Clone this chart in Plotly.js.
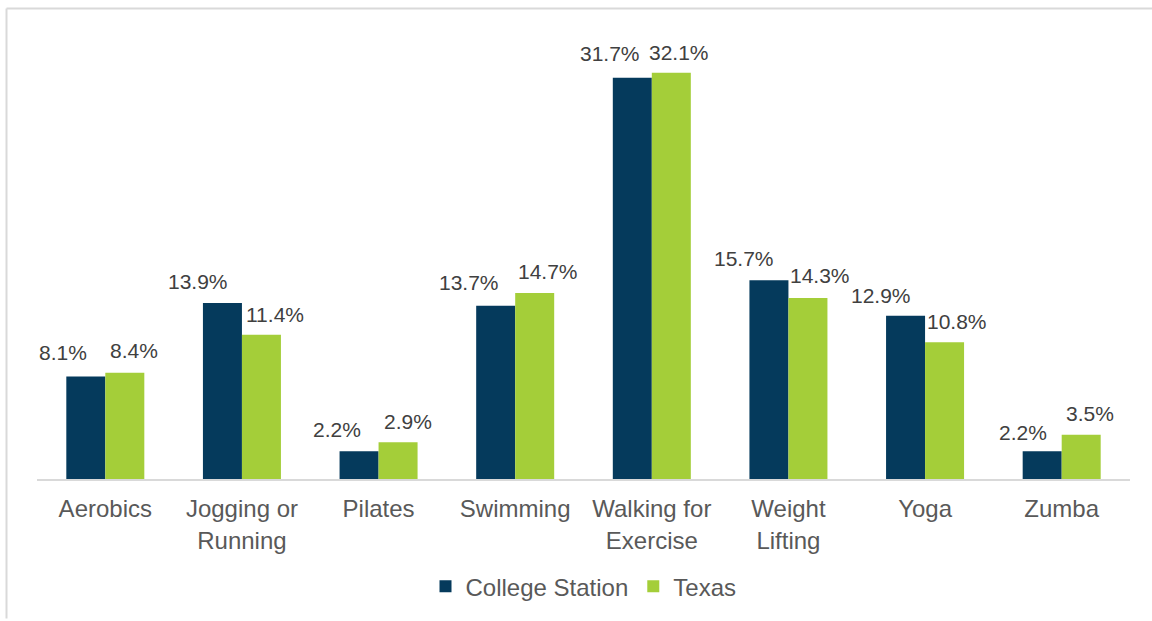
<!DOCTYPE html>
<html>
<head>
<meta charset="utf-8">
<script src="https://cdn.plot.ly/plotly-3.0.1.min.js"></script>
<style>
  html, body { margin: 0; padding: 0; background: #ffffff; }
  #chart { width: 1152px; height: 621px; }
</style>
</head>
<body>
<div id="chart"></div>
<script>
// ---- data ----
const categories = ["Aerobics", "Jogging or<br>Running", "Pilates", "Swimming", "Walking for<br>Exercise", "Weight<br>Lifting", "Yoga", "Zumba"];
const collegeStation = [8.1, 13.9, 2.2, 13.7, 31.7, 15.7, 12.9, 2.2];
const texas = [8.4, 11.4, 2.9, 14.7, 32.1, 14.3, 10.8, 3.5];
const seriesNames = ["College Station", "Texas"];

// ---- label layout tweaks (pixel offsets, Excel-style repositioned labels) ----
const csLabelDx = [-22.5, -24.5, -22, -26.5, -22.5, -25, -24.5, -19.5];
const csLabelUp = [25, 23.5, 23, 25, 26, 23, 22, 20.5];
const txLabelDx = [9, 13.5, 9.5, 13.5, 8, 12, 12, 8.5];
const txLabelUp = [23.5, 22, 22, 23, 22, 24, 22, 23];

const navy = "#053A5C";
const lime = "#A4CE39";
const font = "Liberation Sans, Arial, sans-serif";

const L = 37, R = 22, T = 20, B = 140, W = 1152, H = 621;
const plotW = W - L - R, plotH = H - T - B;
const slot = plotW / categories.length;
const bargap = 0.429;
const barW = slot * (1 - bargap) / 2;

const traces = [
  { type: "bar", name: seriesNames[0], x: categories, y: collegeStation,
    marker: { color: navy }, hoverinfo: "none" },
  { type: "bar", name: seriesNames[1], x: categories, y: texas,
    marker: { color: lime }, hoverinfo: "none" }
];

const annotations = [];
categories.forEach((c, i) => {
  annotations.push({ x: c, y: collegeStation[i], xref: "x", yref: "y",
    text: collegeStation[i].toFixed(1) + "%", showarrow: false,
    xanchor: "center", yanchor: "middle",
    xshift: -barW / 2 + csLabelDx[i], yshift: csLabelUp[i] - 1.5,
    font: { family: font, size: 21, color: "#404040" } });
  annotations.push({ x: c, y: texas[i], xref: "x", yref: "y",
    text: texas[i].toFixed(1) + "%", showarrow: false,
    xanchor: "center", yanchor: "middle",
    xshift: barW / 2 + txLabelDx[i], yshift: txLabelUp[i] - 1.5,
    font: { family: font, size: 21, color: "#404040" } });
});

// outer frame lines (light gray), converted from pixels to paper coords
const px2x = p => (p - L) / plotW;
const py2y = p => (H - B - p) / plotH;
const frameColor = "#D9D9D9";
const shapes = [
  { type: "line", xref: "paper", yref: "paper", x0: px2x(6.5), x1: px2x(1152), y0: py2y(8.5), y1: py2y(8.5),
    line: { color: frameColor, width: 2 } },
  { type: "line", xref: "paper", yref: "paper", x0: px2x(6.5), x1: px2x(6.5), y0: py2y(8.5), y1: py2y(621),
    line: { color: frameColor, width: 2 } }
];

const layout = {
  width: W, height: H,
  margin: { l: L, r: R, t: T, b: B, pad: 0 },
  paper_bgcolor: "#ffffff", plot_bgcolor: "#ffffff",
  barmode: "group", bargap: bargap, bargroupgap: 0,
  font: { family: font, color: "#595959" },
  xaxis: {
    showgrid: false, zeroline: false,
    showline: true, linecolor: "#D9D9D9", linewidth: 1.5,
    ticks: "", tickfont: { family: font, size: 24, color: "#595959" },
    ticklabelstandoff: 8,
    fixedrange: true
  },
  yaxis: {
    range: [0, 36.27], visible: false, showgrid: false, zeroline: false, fixedrange: true
  },
  showlegend: true,
  legend: {
    orientation: "h", x: 0.5, xanchor: "center", y: py2y(589), yanchor: "middle",
    font: { family: font, size: 24, color: "#595959" },
    itemwidth: 30, traceorder: "normal"
  },
  annotations: annotations,
  shapes: shapes
};

Plotly.newPlot("chart", traces, layout, { displayModeBar: false, staticPlot: true });
</script>
</body>
</html>
